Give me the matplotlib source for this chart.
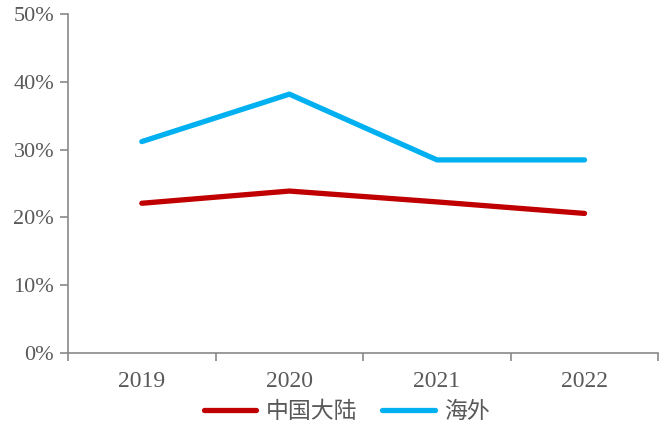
import matplotlib.pyplot as plt
from matplotlib.ticker import PercentFormatter

years = ['2019', '2020', '2021', '2022']
mainland = [22.1, 23.9, 22.3, 20.6]
overseas = [31.2, 38.2, 28.5, 28.5]
series_names = ['中国大陆', '海外']

plt.rcParams['font.family'] = ['Liberation Serif', 'Noto Sans CJK SC', 'DejaVu Sans']

fig = plt.figure(figsize=(6.67, 4.3), dpi=100)
ax = fig.add_axes([0.102, 0.179, 0.885, 0.788])

x = range(len(years))
ax.plot(x, mainland, color='#C00000', lw=3.8, solid_capstyle='round', label=series_names[0])
ax.plot(x, overseas, color='#00B0F0', lw=3.8, solid_capstyle='round', label=series_names[1])

ax.set_xlim(-0.5, len(years) - 0.5)
ax.set_ylim(0, 50)
ax.set_yticks(range(0, 51, 10))
ax.yaxis.set_major_formatter(PercentFormatter(decimals=0))
ax.set_xticks([i - 0.5 for i in range(len(years) + 1)])
ax.set_xticklabels([])
ax.set_xticks(list(x), minor=True)
ax.set_xticklabels(years, minor=True)
ax.tick_params(axis='x', which='minor', length=0, pad=13)
ax.tick_params(axis='x', which='major', length=6, width=1.2, color='#898989')
ax.tick_params(axis='y', length=6, width=1.2, color='#898989', pad=4)
ax.tick_params(labelsize=16, labelcolor='#595959')
ax.tick_params(axis='x', which='minor', labelsize=17, labelcolor='#595959')

for s in ['top', 'right']:
    ax.spines[s].set_visible(False)
for s in ['left', 'bottom']:
    ax.spines[s].set_color('#898989')
    ax.spines[s].set_linewidth(1.2)

leg = fig.legend(loc='center', bbox_to_anchor=(0.52, 0.042), ncol=2, frameon=False,
                 fontsize=16.5, handlelength=2.3, handletextpad=0.4, columnspacing=1.1)
for t in leg.get_texts():
    t.set_color('#595959')

fig.savefig('out.png', dpi=100)
